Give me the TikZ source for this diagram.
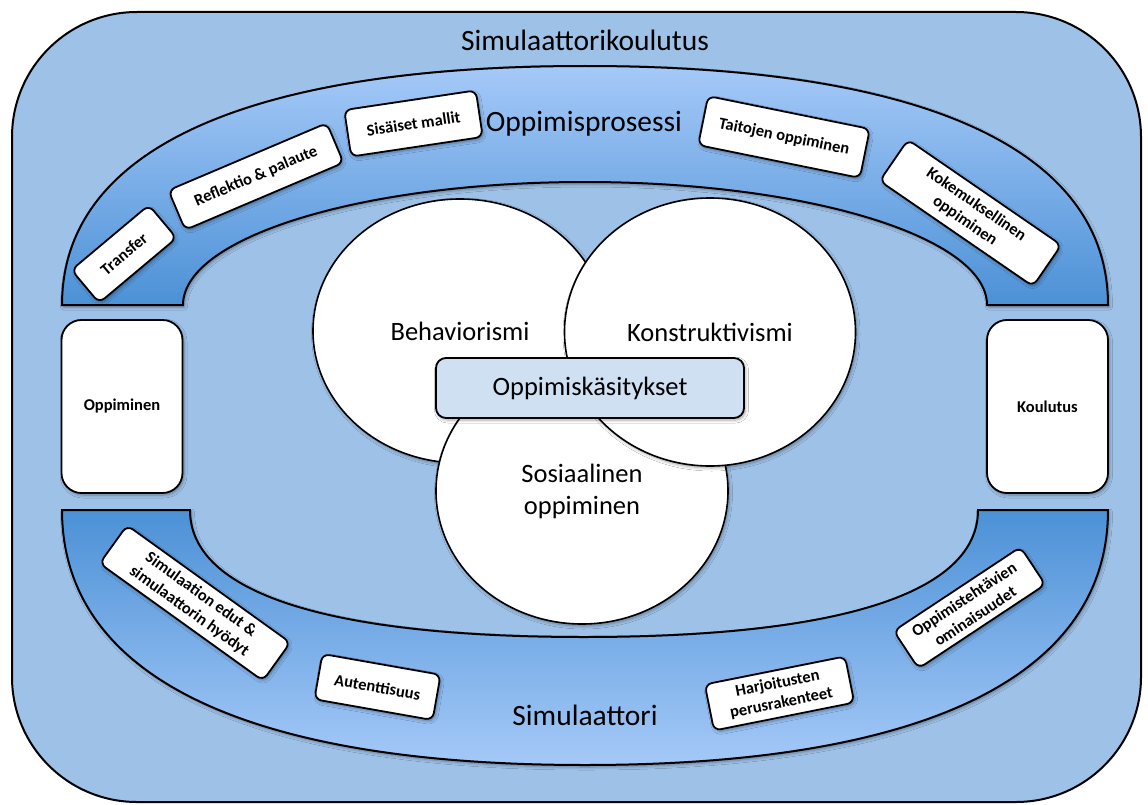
\documentclass[tikz,border=0pt]{standalone}
\usepackage{fontspec}
\setmainfont{Carlito}
\usetikzlibrary{shapes.geometric,shadows.blur}

\definecolor{canvasblue}{RGB}{158,193,231}
\definecolor{bandlight}{RGB}{165,201,248}
\definecolor{banddark}{RGB}{76,145,214}
\definecolor{corefill}{RGB}{207,224,243}

\tikzset{
  softshadow/.style={blur shadow={shadow xshift=1.5bp, shadow yshift=-2bp,
      shadow blur radius=3bp, shadow blur steps=6, shadow opacity=35}},
  tagbox/.style={draw=black, line width=1.8bp, fill=white, rounded corners=7bp,
      inner sep=0pt, align=center,
      font=\fontsize{16.5bp}{20bp}\selectfont\bfseries, softshadow},
  sidebox/.style={tagbox, rounded corners=20bp, minimum width=121bp, minimum height=173bp},
  theory/.style={ellipse, draw=black, line width=1.6bp, fill=white, inner sep=0pt,
      align=center, font=\fontsize{26.5bp}{32bp}\selectfont, softshadow},
  heading/.style={font=\fontsize{29.5bp}{34bp}\selectfont, inner sep=0pt},
  band/.style={draw=black, line width=2bp, softshadow},
}

\begin{document}
\begin{tikzpicture}[x=1bp,y=-1bp]
\useasboundingbox (0,0) rectangle (1148,805);

% outer frame
\path[draw=black, line width=2bp, fill=canvasblue, rounded corners=125bp]
  (12,12) rectangle (1141,802);

% upper arch
\path[band, top color=bandlight, bottom color=banddark]
  (62,305) .. controls (62,150) and (245,66) .. (585,66)
  .. controls (925,66) and (1108,150) .. (1108,305)
  -- (987,305) .. controls (987,237) and (807,182) .. (585,182)
  .. controls (363,182) and (183,237) .. (183,305) -- cycle;

% lower arch
\path[band, top color=banddark, bottom color=bandlight]
  (62,510) .. controls (62,676) and (245,765) .. (585,765)
  .. controls (925,765) and (1108,676) .. (1108,510)
  -- (978,510) .. controls (978,593) and (840,637) .. (584,637)
  .. controls (328,637) and (190,593) .. (190,510) -- cycle;

% headings
\node[heading] (title) at (585,40) {Simulaattorikoulutus};
\node[heading] (process) at (584,124) {Oppimisprosessi};
\node[heading] (simulator) at (585,715) {Simulaattori};

% side boxes
\node[sidebox] (learning) at (122,406.5) {Oppiminen};
\node[sidebox] (training) at (1047.5,406.5) {Koulutus};

% learning theories
\node[theory, minimum width=294bp, minimum height=264bp] (behav) at (460,331) {Behaviorismi};
\node[theory, minimum width=292bp, minimum height=266bp] (social) at (582,491) {Sosiaalinen\\oppiminen};
\node[theory, minimum width=291bp, minimum height=268bp] (constr) at (710,332) {Konstruktivismi};

\node[draw=black, line width=1.8bp, fill=corefill, rounded corners=10bp,
      minimum width=308bp, minimum height=60bp, inner sep=0pt,
      font=\fontsize{26.5bp}{32bp}\selectfont, softshadow]
  (concepts) at (590,388) {Oppimiskäsitykset};

% upper arch labels
\node[tagbox, minimum width=101bp, minimum height=43bp, rotate=40] (transfer) at (124,254) {Transfer};
\node[tagbox, minimum width=172bp, minimum height=43bp, rotate=23] (reflect) at (256,176.5) {Reflektio \& palaute};
\node[tagbox, minimum width=133bp, minimum height=47bp, rotate=8.5] (models) at (413.5,123.5) {Sisäiset mallit};
\node[tagbox, minimum width=165bp, minimum height=50bp, rotate=-11.5] (skills) at (784,137) {Taitojen oppiminen};
\node[tagbox, minimum width=186bp, minimum height=50bp, rotate=-34.5] (experience) at (970.5,213) {Kokemuksellinen\\oppiminen};

% lower arch labels
\node[tagbox, minimum width=201bp, minimum height=47bp, rotate=-35.7] (benefits) at (195,603) {Simulaation edut \&\\simulaattorin hyödyt};
\node[tagbox, minimum width=120bp, minimum height=46bp, rotate=-10] (authentic) at (377.5,687) {Autenttisuus};
\node[tagbox, minimum width=143bp, minimum height=47bp, rotate=11.3] (exercise) at (779.5,693.5) {Harjoitusten\\perusrakenteet};
\node[tagbox, minimum width=152bp, minimum height=45bp, rotate=33.5] (tasks) at (969.5,607.75) {Oppimistehtävien\\ominaisuudet};
\end{tikzpicture}
\end{document}
